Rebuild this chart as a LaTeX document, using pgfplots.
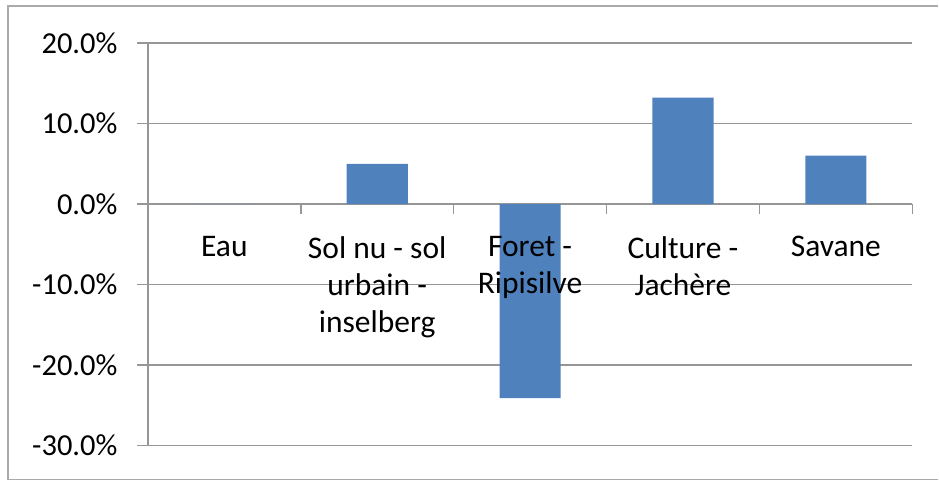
\documentclass[border=0pt]{standalone}
\usepackage{pgfplots}
\pgfplotsset{compat=1.18}
\usepackage{fontspec}
\setmainfont{Carlito}
\definecolor{barblue}{RGB}{79,129,189}
\definecolor{gridc}{RGB}{150,150,150}
\definecolor{framec}{RGB}{170,170,170}
\begin{document}
\begin{tikzpicture}
\begin{axis}[
  set layers,
  at={(148bp,35bp)}, anchor=south west,
  scale only axis, width=765bp, height=403bp,
  xmin=-0.5, xmax=4.5, ymin=-30, ymax=20,
  axis x line=middle, axis y line=left,
  axis line style={gridc, line width=1.5bp, -},
  x axis line style={draw=none},
  ytick={-30,-20,-10,0,10,20},
  ymajorgrids, grid style={gridc, line width=1.5bp, /pgfplots/on layer=axis background},
  tick align=outside, major tick length=11bp,
  tick style={gridc, line width=1.5bp},
  xtick style={draw=none},
  /pgf/number format/assume math mode=true,
  yticklabel={\pgfmathprintnumber[fixed,fixed zerofill,precision=1]{\tick}\%},
  yticklabel style={font=\fontsize{30.5bp}{36bp}\selectfont, xshift=-16bp},
  xtick={0,1,2,3,4},
  xticklabels={Eau,{Sol nu - sol\\urbain -\\inselberg},{Foret -\\Ripisilve},{Culture -\\Jachère},Savane},
  xticklabel style={font=\fontsize{31.5bp}{37bp}\selectfont, align=center, text depth=0pt, yshift=-18bp},
  clip=false,
]
\addplot[ybar, fill=barblue, draw=none, bar width=0.4, /pgfplots/on layer=axis grid] coordinates {(0,0) (1,5.0) (2,-24.1) (3,13.2) (4,6.0)};
\pgfplotsinvokeforeach{-0.5,0.5,1.5,2.5,3.5,4.5}{
  \draw[gridc, line width=1.5bp] (axis cs:#1,0) -- ++(0bp,-10bp);
}
\end{axis}
\path (0bp,0bp) rectangle (939bp,481bp);
\draw[framec, line width=1.5bp] (939bp,1bp) -- (8bp,1bp) -- (8bp,475bp) -- (939bp,475bp);
\end{tikzpicture}
\end{document}
